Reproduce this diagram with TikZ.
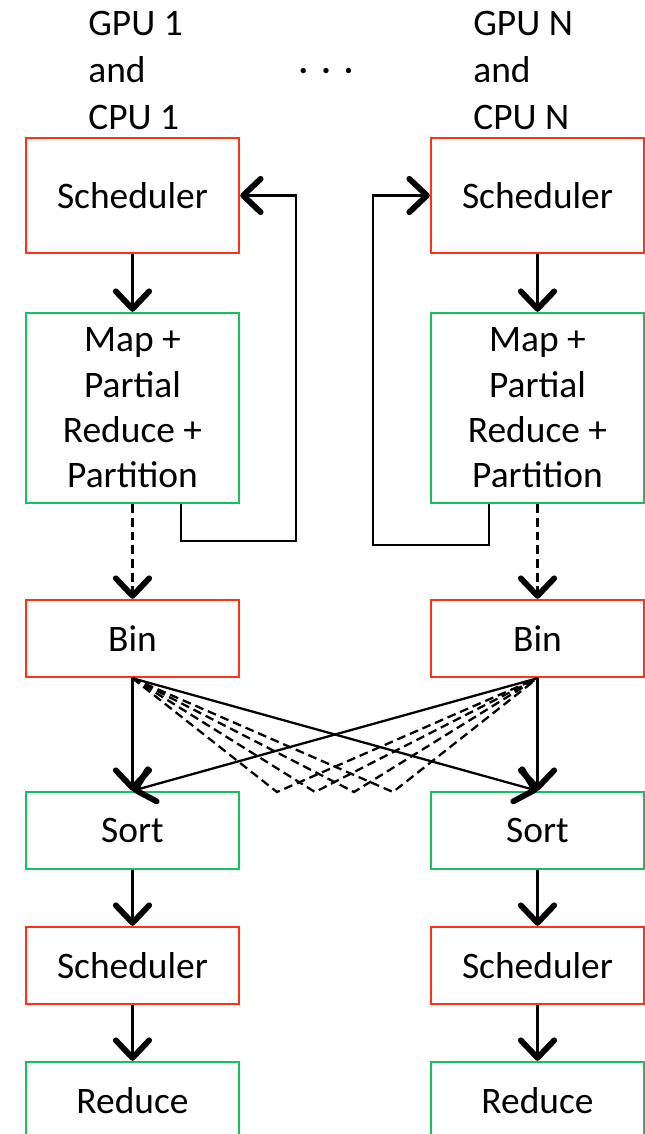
\documentclass[tikz,border=0pt]{standalone}
\usepackage{fontspec}
\setmainfont{Carlito}
\usetikzlibrary{arrows.meta}
\definecolor{schedred}{HTML}{FF3311}
\definecolor{taskgreen}{HTML}{14C060}
\tikzset{
  stage/.style={draw, line width=1.4pt, minimum width=4.26cm, inner sep=0pt,
                align=center, font=\fontsize{21.3}{25.8}\selectfont},
  sched/.style={stage, draw=schedred},
  task/.style={stage, draw=taskgreen},
  flow/.style={line width=1.3pt,
               -{Straight Barb[length=10pt,width=19pt,line width=3.3pt,round]}},
  spill/.style={flow, dash pattern=on 5pt off 2.8pt},
  shuffle/.style={line width=1.3pt, dash pattern=on 5pt off 2.8pt},
  host/.style={anchor=west, align=left, inner sep=0pt,
               font=\fontsize{21.3}{26.5}\selectfont}
}

\begin{document}
\begin{tikzpicture}[x=0.02cm,y=-0.02cm]
\useasboundingbox (0,0) rectangle (645,1134);

% Device labels above the two columns.
\node[host] (hostL) at (88,70.5) {GPU 1\\and\\CPU 1};
\node[host] (hostR) at (473,70.5) {GPU N\\and\\CPU N};
\node[anchor=base, inner sep=0pt, font=\fontsize{21.3}{25.8}\selectfont]
  (dots) at (326,81) {·\hspace{0.35em}·\hspace{0.35em}·};

% One pipeline per device.
\foreach \col/\x in {L/132.5,R/537.5}{
  \node[sched, minimum height=2.3cm] (sch\col) at (\x,195.5) {Scheduler};
  \node[task, minimum height=3.8cm] (map\col) at (\x,408)
    {Map +\\Partial\\Reduce +\\Partition};
  \node[sched, minimum height=1.54cm] (bin\col) at (\x,638.5) {Bin};
  \node[task, minimum height=1.54cm] (sort\col) at (\x,830.5) {Sort};
  \node[sched, minimum height=1.54cm] (rsch\col) at (\x,965.5) {Scheduler};
  \node[task, minimum height=1.54cm] (red\col) at (\x,1100.5) {Reduce};

  \draw[flow] (sch\col) -- (map\col);
  \draw[spill] (map\col) -- (bin\col);
  \draw[flow] (bin\col) -- (sort\col);
  \draw[flow] (sort\col) -- (rsch\col);
  \draw[flow] (rsch\col) -- (red\col);
}

% Feedback from map stage back to its scheduler.
\coordinate (loopL) at (296,541);
\coordinate (loopR) at (373,545);
\draw[flow] ([xshift=0.97cm]mapL.south) |- (loopL) |- (schL.east);
\draw[flow] ([xshift=-0.97cm]mapR.south) |- (loopR) |- (schR.west);

% Shuffle between bins and sorts.
\draw[flow] (binL.south) -- (sortR.north);
\draw[flow] (binR.south) -- (sortL.north);
\foreach \i/\vx in {1/277,2/315,3/354,4/393}{
  \coordinate (dip\i) at (\vx,792);
  \draw[shuffle] (binL.south) -- (dip\i) -- (binR.south);
}

\end{tikzpicture}
\end{document}
